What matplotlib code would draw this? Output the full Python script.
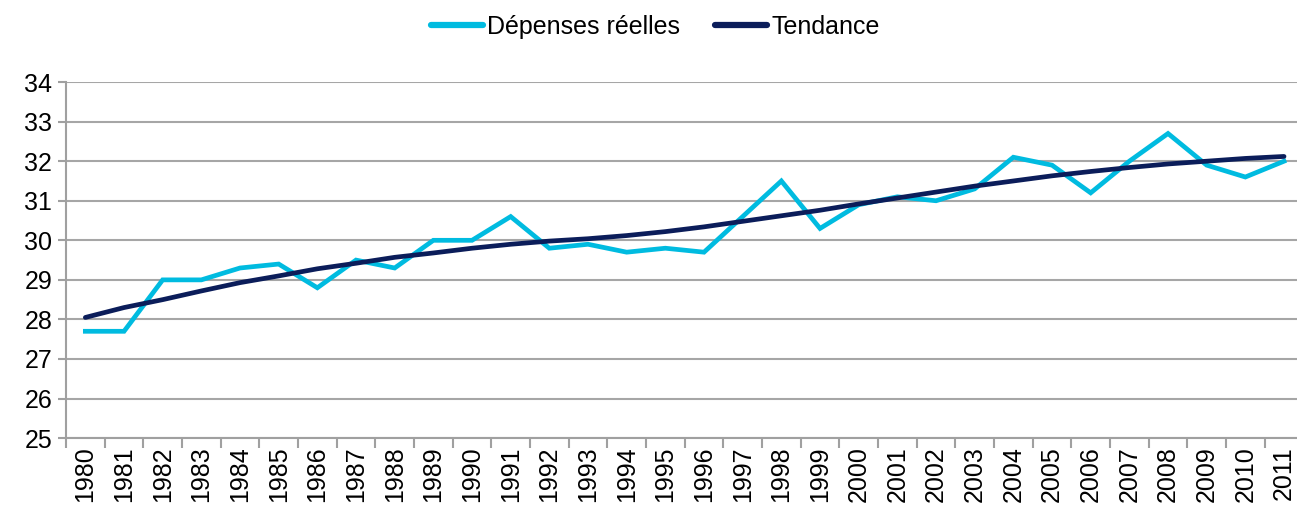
import matplotlib
matplotlib.use("Agg")
import matplotlib.pyplot as plt
import numpy as np

plt.rcParams['font.family'] = ['Liberation Sans', 'DejaVu Sans']

years = list(range(1980, 2012))
depenses = [27.7, 27.7, 29.0, 29.0, 29.3, 29.4, 28.8, 29.5, 29.3, 30.0,
            30.0, 30.6, 29.8, 29.9, 29.7, 29.8, 29.7, 30.6, 31.5, 30.3,
            30.9, 31.1, 31.0, 31.3, 32.1, 31.9, 31.2, 32.0, 32.7, 31.9,
            31.6, 32.0]
tendance = [28.05, 28.3, 28.5, 28.72, 28.93, 29.1, 29.28, 29.42, 29.57, 29.68,
            29.8, 29.9, 29.98, 30.04, 30.12, 30.22, 30.34, 30.48, 30.62, 30.76,
            30.92, 31.07, 31.22, 31.37, 31.5, 31.63, 31.74, 31.84, 31.93, 32.0,
            32.07, 32.12]

fig = plt.figure(figsize=(12.97, 5.13), dpi=100)
ax = fig.add_axes([0.0509, 0.146, 0.954, 0.694])

x = np.arange(len(years))
ax.plot(x, depenses, color='#00BBE0', lw=3.4, label='Dépenses réelles', solid_joinstyle='miter')
ax.plot(x, tendance, color='#0B1D5A', lw=3.4, label='Tendance', solid_capstyle='round')

ax.set_xlim(-0.5, len(years) - 0.5)
ax.set_ylim(25, 34)
ax.set_yticks(range(25, 35))
ax.tick_params(axis='y', labelsize=18, length=6, color='#A0A0A0', width=1.5, pad=4)
ax.grid(axis='y', color='#A6A6A6', lw=1.5)
ax.set_axisbelow(True)

ax.set_xticks(x)
ax.set_xticklabels([str(y) for y in years], rotation=90, fontsize=18)
ax.tick_params(axis='x', which='major', length=0, pad=6)
ax.set_xticks(np.arange(-0.5, len(years)), minor=True)
ax.tick_params(axis='x', which='minor', length=7, color='#A0A0A0', width=1.5)

for s in ['top', 'right']:
    ax.spines[s].set_visible(False)
for s in ['left', 'bottom']:
    ax.spines[s].set_color('#A0A0A0')
    ax.spines[s].set_linewidth(1.5)

leg = fig.legend(loc='upper center', bbox_to_anchor=(0.505, 1.015), ncol=2, frameon=False,
                 fontsize=18, handlelength=2.1, handletextpad=0.15, columnspacing=1.4)
for h in leg.get_lines():
    h.set_linewidth(4.5)
    h.set_solid_capstyle('round')

fig.savefig('out.png', dpi=100)
